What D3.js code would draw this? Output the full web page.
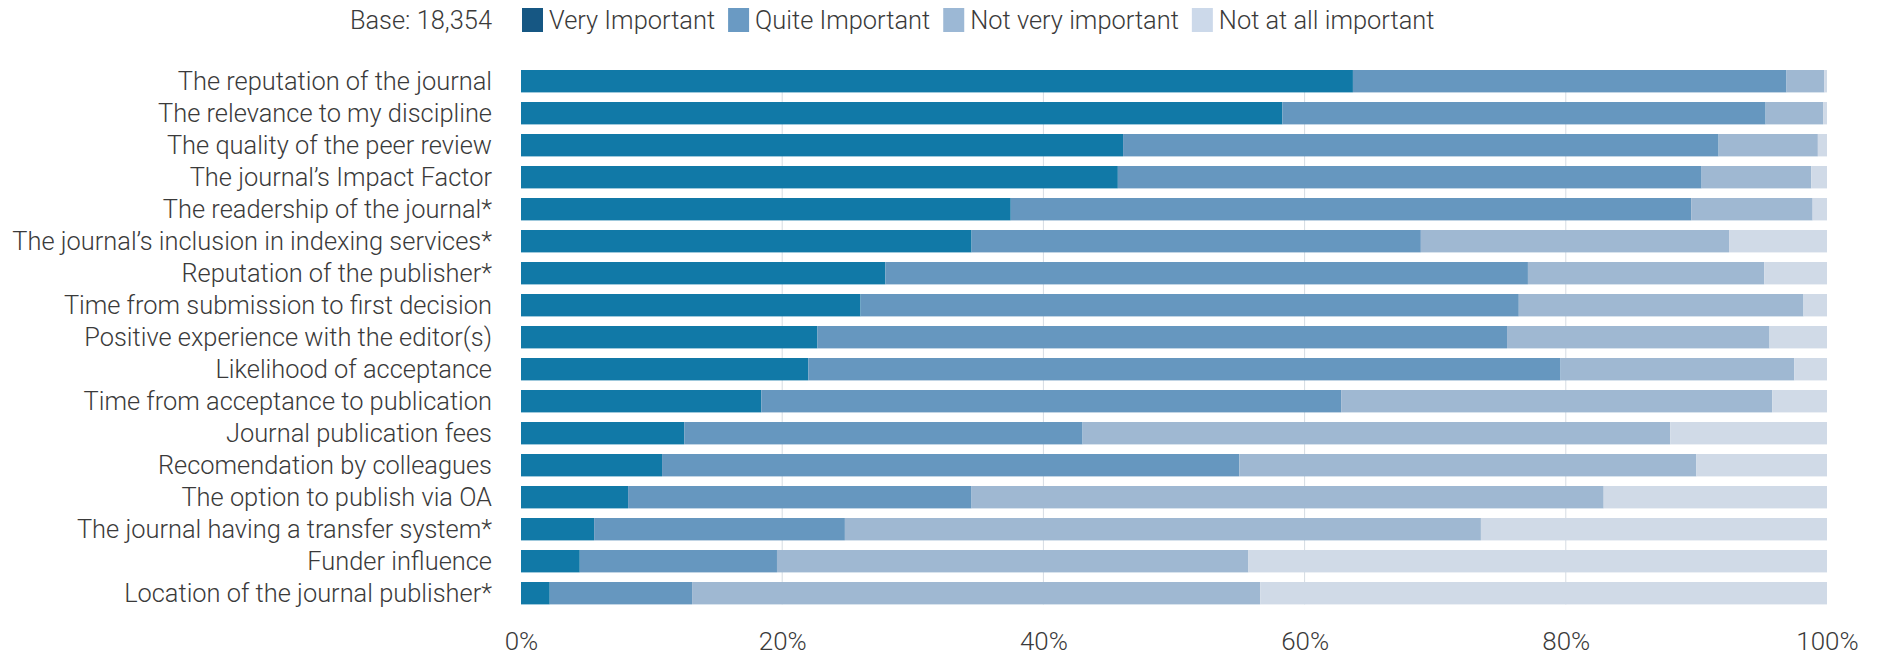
<!DOCTYPE html>
<html>
<head>
<meta charset="utf-8">
<script src="https://cdn.jsdelivr.net/npm/d3@7"></script>
<style>
    html, body { margin: 0; padding: 0; background: #ffffff; }
    svg text { font-family: Roboto, "Liberation Sans", sans-serif; font-weight: 300; fill: #3a3a3a; }
</style>
</head>
<body>
<svg id="chart" width="1877" height="658"></svg>
<script>
// ===== stacked importance chart =====
// what this file does: 100% stacked horizontal bars, one row per factor,
// four answer levels from "Very Important" to "Not at all important"
// ================================

// row labels (top to bottom)
const categories = [
    'The reputation of the journal',
    'The relevance to my discipline',
    'The quality of the peer review',
    'The journal\u2019s Impact Factor',
    'The readership of the journal*',
    'The journal\u2019s inclusion in indexing services*',
    'Reputation of the publisher*',
    'Time from submission to first decision',
    'Positive experience with the editor(s)',
    'Likelihood of acceptance',
    'Time from acceptance to publication',
    'Journal publication fees',
    'Recomendation by colleagues',
    'The option to publish via OA',
    'The journal having a transfer system*',
    'Funder influence',
    'Location of the journal publisher*'
];

// share of answers (%) per level, same order as categories
const veryImportant     = [63.7, 58.3, 46.1, 45.7, 37.5, 34.5, 27.9, 26.0, 22.7, 22.0, 18.4, 12.5, 10.8, 8.2, 5.6, 4.5, 2.2];
const quiteImportant    = [33.2, 37.0, 45.6, 44.7, 52.1, 34.4, 49.2, 50.4, 52.8, 57.6, 44.4, 30.5, 44.2, 26.3, 19.2, 15.1, 10.9];
const notVeryImportant  = [2.9, 4.4, 7.6, 8.4, 9.3, 23.6, 18.1, 21.8, 20.1, 17.9, 33.0, 45.0, 35.0, 48.4, 48.7, 36.1, 43.5];
const notAtAllImportant = [0.2, 0.3, 0.7, 1.2, 1.1, 7.5, 4.8, 1.8, 4.4, 2.5, 4.2, 12.0, 10.0, 17.1, 26.5, 44.3, 43.4];

// legend / series names
const seriesNames = ['Very Important', 'Quite Important', 'Not very important', 'Not at all important'];
const baseLabel = 'Base: 18,354';

// x axis ticks
const tickValues = [0, 20, 40, 60, 80, 100];
const gridValues = [20, 40, 60, 80];

// colours
const barColors    = ['#1179a7', '#6697bf', '#9fb8d2', '#d0dae7'];
const swatchColors = ['#165783', '#6a9ac3', '#9cb8d5', '#ccd9ea'];

const svg = d3.select('#chart');

// measure the longest label so the light font lands on the reference width (~480px)
function fitFontSize() {
    const probe = svg.append('text').style('font-size', '26px').text(categories[5]);
    const w = probe.node().getComputedTextLength();
    probe.remove();
    return w > 0 ? 26 * 480 / w : 26;
}
const fontSize = fitFontSize();

// scales
const x = d3.scaleLinear().domain([0, 100]).range([521, 1827]);
const y = d3.scaleBand()
    .domain(categories)
    .range([65.2, 609.2])
    .paddingInner(0.3)
    .paddingOuter(0.15);

// table for d3.stack
const rows = categories.map((c, i) => ({
    category: c,
    'Very Important': veryImportant[i],
    'Quite Important': quiteImportant[i],
    'Not very important': notVeryImportant[i],
    'Not at all important': notAtAllImportant[i]
}));
const stacked = d3.stack().keys(seriesNames)(rows);

// gridlines (behind the bars)
const gridTop = y(categories[0]);
const gridBottom = y(categories[categories.length - 1]) + y.bandwidth();
svg.append('g')
    .attr('class', 'grid')
    .selectAll('line')
    .data(gridValues)
    .join('line')
    .attr('x1', d => x(d))
    .attr('x2', d => x(d))
    .attr('y1', gridTop)
    .attr('y2', gridBottom)
    .attr('stroke', '#d6dce3')
    .attr('stroke-width', 1);

// bars
svg.append('g')
    .attr('class', 'bars')
    .selectAll('g')
    .data(stacked)
    .join('g')
    .attr('fill', (d, i) => barColors[i])
    .selectAll('rect')
    .data(d => d)
    .join('rect')
    .attr('x', d => x(d[0]))
    .attr('width', d => Math.max(0, x(d[1]) - x(d[0])))
    .attr('y', d => y(d.data.category))
    .attr('height', y.bandwidth());

// row labels, right aligned
svg.append('g')
    .attr('class', 'labels')
    .selectAll('text')
    .data(categories)
    .join('text')
    .attr('x', 492)
    .attr('y', d => y(d) + y.bandwidth() / 2)
    .attr('dy', '0.35em')
    .attr('text-anchor', 'end')
    .style('font-size', fontSize + 'px')
    .text(d => d);

// x axis (no line, no ticks, just percent labels)
const xAxis = svg.append('g')
    .attr('transform', `translate(0,${gridBottom})`)
    .call(d3.axisBottom(x)
        .tickValues(tickValues)
        .tickSize(0)
        .tickPadding(27)
        .tickFormat(d => d + '%'));
xAxis.select('.domain').remove();
xAxis.selectAll('text')
    .style('font-family', 'Roboto, "Liberation Sans", sans-serif')
    .style('font-weight', 300)
    .style('font-size', (fontSize * 1.02) + 'px')
    .attr('fill', '#3a3a3a');

// legend row at the top
const legendY = 20;
svg.append('text')
    .attr('x', 492)
    .attr('y', legendY)
    .attr('dy', '0.35em')
    .attr('text-anchor', 'end')
    .style('font-size', fontSize + 'px')
    .text(baseLabel);

let lx = 522;
seriesNames.forEach((name, i) => {
    const item = svg.append('g').attr('class', 'legend-item');
    item.append('rect')
        .attr('x', lx)
        .attr('y', 8)
        .attr('width', 21)
        .attr('height', 24)
        .attr('fill', swatchColors[i]);
    const t = item.append('text')
        .attr('x', lx + 27)
        .attr('y', legendY)
        .attr('dy', '0.35em')
        .style('font-size', fontSize + 'px')
        .text(name);
    // next item starts after this text plus a small gap
    lx = lx + 27 + t.node().getComputedTextLength() + 13;
});
</script>
</body>
</html>
